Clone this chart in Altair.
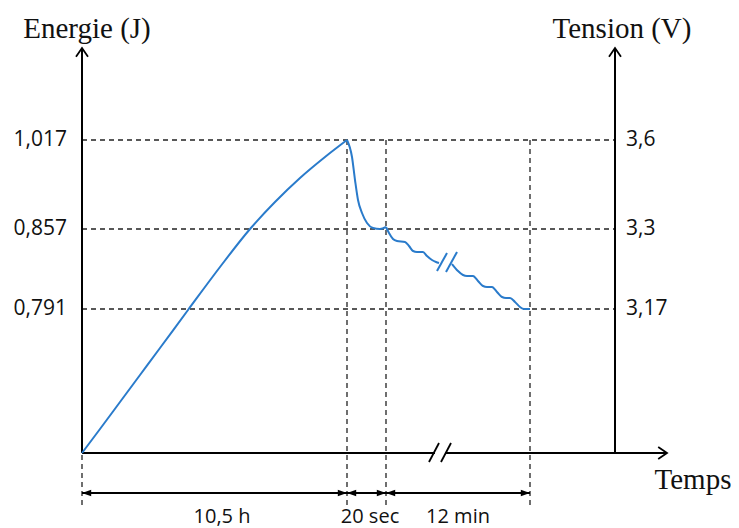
import altair as alt
import pandas as pd

# Schematic coordinates: t = position along the time axis from the origin,
# e = height above the time axis (the sketch is not to scale).
charge_t = [0, 18, 38, 58, 78, 106, 138, 168, 193, 218, 243, 265]
charge_e = [0, 24, 51, 78, 105, 143, 186, 224, 251, 275, 296, 313]

relax_t = [265, 270, 273, 276, 280, 285, 291, 298, 304]
relax_e = [313, 296, 273, 253, 240, 230, 225, 224, 226]

disch1_t = [304, 307, 311, 315, 323, 327, 331, 335, 341, 345, 350, 354, 357]
disch1_e = [226, 220, 214, 212, 211, 207, 202, 201, 201, 197, 193, 191, 190]

disch2_t = [370, 376, 381, 385, 391, 396, 401, 405, 410, 415, 420, 424, 428, 433, 438, 442, 448]
disch2_e = [189, 182, 178, 177, 177, 172, 167, 166, 166, 161, 156, 155, 155, 151, 146, 144, 144]

energy_labels = ["1,017", "0,857", "0,791"]
voltage_labels = ["3,6", "3,3", "3,17"]
levels = [313, 224, 144]

phase_bounds = [0, 265, 304, 448]
phase_labels = ["10,5 h", "20 sec", "12 min"]
phase_label_t = [140, 288, 376]

axis_top = 405
right_axis_t = 533
time_axis_end = 585
arrow_row = -40
dash_bottom = -52

XS = alt.Scale(domain=[-74, 649], nice=False, zero=False)
YS = alt.Scale(domain=[-75, 445], nice=False, zero=False)


def X(f="t"):
    return alt.X(f"{f}:Q", scale=XS, axis=None)


def Y(f="e"):
    return alt.Y(f"{f}:Q", scale=YS, axis=None)


# ---- dashed guides
hdash = pd.DataFrame({"t": [0] * 3, "t2": [right_axis_t] * 3, "e": levels})
vdash = pd.DataFrame({
    "t": phase_bounds,
    "e": [dash_bottom] * 4,
    "e2": [0, levels[0], levels[0], levels[0]],
})
dash_style = dict(color="#222222", strokeDash=[5, 4], strokeWidth=1.3)
l_hdash = alt.Chart(hdash).mark_rule(**dash_style).encode(x=X(), x2="t2:Q", y=Y())
l_vdash = alt.Chart(vdash).mark_rule(**dash_style).encode(x=X(), y=Y(), y2="e2:Q")

# ---- axes
axes = pd.DataFrame({
    "t": [0, right_axis_t, 0],
    "t2": [0, right_axis_t, time_axis_end],
    "e": [0, 0, 0],
    "e2": [axis_top, axis_top, 0],
})
l_axes = alt.Chart(axes).mark_rule(color="black", strokeWidth=2).encode(
    x=X(), x2="t2:Q", y=Y(), y2="e2:Q")

up_heads = pd.DataFrame({"t": [0, right_axis_t], "e": [axis_top, axis_top]})
l_up = alt.Chart(up_heads).mark_point(
    shape="M-1.5,2.2L0,0L1.5,2.2", filled=False, size=64, color="black",
    strokeWidth=1.8, opacity=1).encode(x=X(), y=Y())
right_head = pd.DataFrame({"t": [time_axis_end], "e": [0]})
l_right = alt.Chart(right_head).mark_point(
    shape="M-2.2,-1.5L0,0L-2.2,1.5", filled=False, size=64, color="black",
    strokeWidth=1.8, opacity=1).encode(x=X(), y=Y())

# ---- curve
parts = []
for name, ts, es in [("charge", charge_t, charge_e), ("relax", relax_t, relax_e),
                     ("d1", disch1_t, disch1_e), ("d2", disch2_t, disch2_e)]:
    for i, (t, e) in enumerate(zip(ts, es)):
        parts.append({"seg": name, "t": t, "e": e, "i": i})
curve = pd.DataFrame(parts)
l_curve = alt.Chart(curve).mark_line(
    color="#2a7bcb", strokeWidth=2, interpolate="monotone").encode(
    x=X(), y=Y(), detail="seg:N", order="i:Q")

# ---- break marks
blue_break = pd.DataFrame({"t": [355, 364], "e": [182, 181], "t2": [365, 375], "e2": [200, 201]})
l_bbreak = alt.Chart(blue_break).mark_rule(color="#2a7bcb", strokeWidth=2).encode(
    x=X(), y=Y(), x2="t2:Q", y2="e2:Q")
gap = pd.DataFrame({"t": [353], "t2": [363], "e": [0]})
l_gap = alt.Chart(gap).mark_rule(color="white", strokeWidth=4).encode(
    x=X(), x2="t2:Q", y=Y())
axis_break = pd.DataFrame({"t": [347, 359], "e": [-9, -9], "t2": [357, 369], "e2": [10, 10]})
l_abreak = alt.Chart(axis_break).mark_rule(color="black", strokeWidth=1.8).encode(
    x=X(), y=Y(), x2="t2:Q", y2="e2:Q")

# ---- duration arrows
dur = pd.DataFrame({"t": phase_bounds[:-1], "t2": phase_bounds[1:], "e": [arrow_row] * 3})
l_dur = alt.Chart(dur).mark_rule(color="black", strokeWidth=1.8).encode(
    x=X(), x2="t2:Q", y=Y())
heads_r = pd.DataFrame({"t": phase_bounds[1:], "e": [arrow_row] * 3})
heads_l = pd.DataFrame({"t": phase_bounds[:-1], "e": [arrow_row] * 3})
l_hr = alt.Chart(heads_r).mark_point(
    shape="M0,0L-2.3,-0.8L-2.3,0.8Z", filled=True, size=64, color="black", opacity=1).encode(
    x=X(), y=Y())
l_hl = alt.Chart(heads_l).mark_point(
    shape="M0,0L2.3,-0.8L2.3,0.8Z", filled=True, size=64, color="black", opacity=1).encode(
    x=X(), y=Y())

# ---- texts
sans = dict(font="Open Sans", fontSize=21, color="#111111")
serif = dict(font="Liberation Serif", fontSize=29, color="#111111")

left_lab = pd.DataFrame({"t": [-15] * 3, "e": levels, "txt": energy_labels})
l_left = alt.Chart(left_lab).mark_text(align="right", baseline="middle", **sans).encode(
    x=X(), y=Y(), text="txt:N")
right_lab = pd.DataFrame({"t": [544] * 3, "e": levels, "txt": voltage_labels})
l_rlab = alt.Chart(right_lab).mark_text(align="left", baseline="middle", **sans).encode(
    x=X(), y=Y(), text="txt:N")
phase_lab = pd.DataFrame({"t": phase_label_t, "e": [-70] * 3, "txt": phase_labels})
l_phase = alt.Chart(phase_lab).mark_text(
    align="center", baseline="alphabetic", font="Open Sans", fontSize=20, color="#111111").encode(
    x=X(), y=Y(), text="txt:N")

titles = pd.DataFrame({
    "t": [5, 540, 611],
    "e": [415, 415, -36],
    "txt": ["Energie (J)", "Tension (V)", "Temps"],
})
l_titles = alt.Chart(titles).mark_text(align="center", baseline="alphabetic", **serif).encode(
    x=X(), y=Y(), text="txt:N")

chart = alt.layer(
    l_hdash, l_vdash, l_axes, l_up, l_right, l_curve, l_bbreak, l_gap, l_abreak,
    l_dur, l_hr, l_hl, l_left, l_rlab, l_phase, l_titles,
).properties(
    width=723, height=520, autosize="none", padding=0, background="white",
).configure_view(stroke=None)

chart.save("out.html", embed_options={"renderer": "svg", "actions": False})
